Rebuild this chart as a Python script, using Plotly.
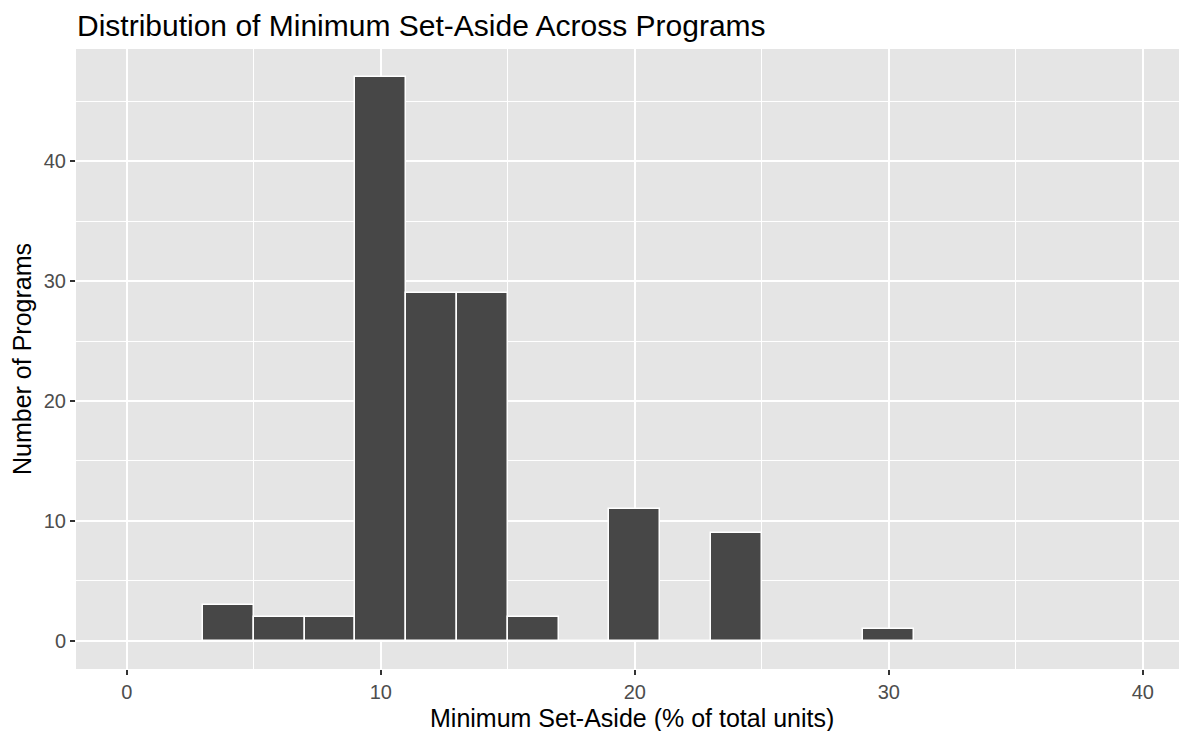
import plotly.graph_objects as go

bin_centers = [4, 6, 8, 10, 12, 14, 16, 18, 20, 22, 24, 26, 28, 30]
counts = [3, 2, 2, 47, 29, 29, 2, 0, 11, 0, 9, 0, 0, 1]
bin_width = 2
x_ticks = [0, 10, 20, 30, 40]
y_ticks = [0, 10, 20, 30, 40]

FONT = "Liberation Sans, Arial, Helvetica, sans-serif"

# page has an 8px body margin; figure is sized to fit the window
W, H = 1179, 723
L, R, T, B = 68, 0, 41, 62
px_per_unit = 25.4

fig = go.Figure()
fig.add_trace(go.Bar(
    x=bin_centers, y=counts, width=[bin_width] * len(bin_centers),
    marker=dict(color="#474747", line=dict(color="white", width=1.5)),
    hoverinfo="x+y",
))

fig.update_layout(
    width=W, height=H,
    margin=dict(l=L, r=R, t=T, b=B, autoexpand=False),
    paper_bgcolor="white",
    plot_bgcolor="#E5E5E5",
    showlegend=False,
    bargap=0,
    title=dict(text="Distribution of Minimum Set-Aside Across Programs",
               xref="container", yref="container",
               x=69 / W, xanchor="left", y=1 - 17.5 / H, yanchor="middle",
               font=dict(family=FONT, size=30, color="black")),
    font=dict(family=FONT),
    annotations=[
        dict(text="Minimum Set-Aside (% of total units)", xref="paper", yref="paper",
             x=0.5, y=0, xanchor="center", yanchor="middle", yshift=-49,
             showarrow=False, font=dict(family=FONT, size=25, color="black")),
        dict(text="Number of Programs", xref="paper", yref="paper",
             x=0, y=0.5, xanchor="center", yanchor="middle", xshift=-54, textangle=-90,
             showarrow=False, font=dict(family=FONT, size=25, color="black")),
    ],
)

fig.update_xaxes(
    range=[-2, (W - L - R) / px_per_unit - 2],
    tickvals=x_ticks, ticktext=[str(v) for v in x_ticks],
    showgrid=True, gridcolor="white", gridwidth=2.2,
    minor=dict(tickvals=[5, 15, 25, 35], showgrid=True, gridcolor="white", gridwidth=1.1),
    ticks="outside", ticklen=5, tickwidth=2, tickcolor="#333333",
    tickfont=dict(family=FONT, size=20, color="#4D4D4D"),
    zeroline=False, showline=False, automargin=False,
)
fig.update_yaxes(
    range=[-47 * 0.05, 47 * 1.05],
    tickvals=y_ticks, ticktext=[str(v) for v in y_ticks],
    showgrid=True, gridcolor="white", gridwidth=2.2,
    minor=dict(tickvals=[5, 15, 25, 35, 45], showgrid=True, gridcolor="white", gridwidth=1.1),
    ticks="outside", ticklen=5, tickwidth=2, tickcolor="#333333",
    tickfont=dict(family=FONT, size=20, color="#4D4D4D"),
    zeroline=False, showline=False, automargin=False,
)

fig.write_html("out.html")
